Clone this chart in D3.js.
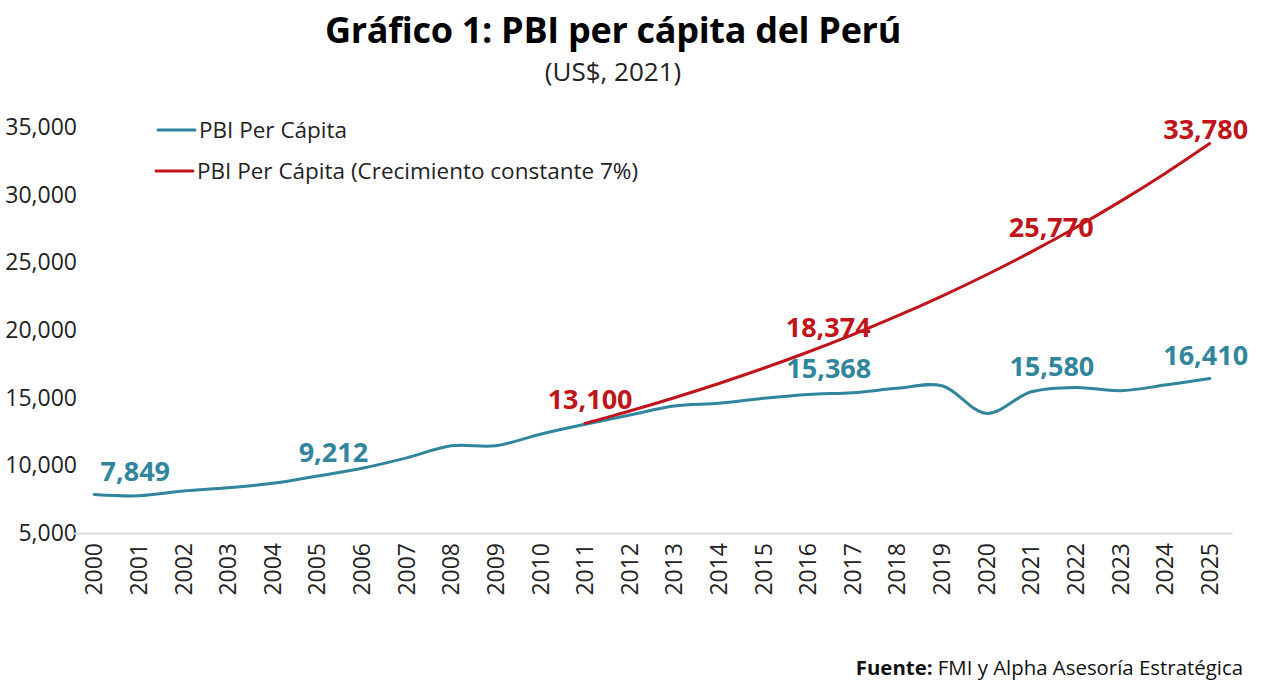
<!DOCTYPE html>
<html>
<head>
<meta charset="utf-8">
<script src="https://cdn.jsdelivr.net/npm/d3@7"></script>
<style>
  html, body { margin: 0; padding: 0; background: #fff; }
  svg { display: block; }
  text { font-family: "Open Sans", "Noto Sans", sans-serif; }
</style>
</head>
<body>
<svg id="chart" width="1263" height="685"></svg>
<script>
// ---- data ----
const years = ["2000","2001","2002","2003","2004","2005","2006","2007","2008","2009","2010","2011","2012",
               "2013","2014","2015","2016","2017","2018","2019","2020","2021","2022","2023","2024","2025"];
const pbiPerCapita = [7849, 7750, 8100, 8345, 8670, 9212, 9780, 10550, 11450, 11450, 12300, 13030, 13715,
                      14380, 14580, 14950, 15240, 15368, 15690, 15880, 13840, 15435, 15760, 15510, 15930, 16410];
const growthYears = ["2011","2012","2013","2014","2015","2016","2017","2018","2019","2020","2021","2022","2023","2024","2025"];
const pbiGrowth7 = [13100, 14017, 14998, 16048, 17171, 18374, 19660, 21036, 22509, 24084, 25770, 27574, 29504, 31569, 33780];
const yTicks = [5000, 10000, 15000, 20000, 25000, 30000, 35000];
const blueLabelYears = ["2000", "2005", "2017", "2022", "2025"];
const blueLabelTexts = ["7,849", "9,212", "15,368", "15,580", "16,410"];
const redLabelYears = ["2011", "2016", "2021", "2025"];
const redLabelTexts = ["13,100", "18,374", "25,770", "33,780"];
const seriesNames = ["PBI Per Cápita", "PBI Per Cápita (Crecimiento constante 7%)"];
const titleText = "Gráfico 1: PBI per cápita del Perú";
const subtitleText = "(US$, 2021)";

// ---- styles ----
const BLUE = "#31859C";
const RED = "#C0131A";

const svg = d3.select("#chart");

const x = d3.scaleBand().domain(years).range([72, 1232]).paddingInner(0).paddingOuter(0);
const xc = d => x(d) + x.bandwidth() / 2;
const y = d3.scaleLinear().domain([5000, 35000]).range([533, 127]);

// title
svg.append("text").attr("x", 613).attr("y", 43).attr("text-anchor", "middle")
  .style("font-weight", 700).style("font-size", "36px").style("letter-spacing", "-0.3px").attr("fill", "#000").text(titleText);
svg.append("text").attr("x", 613).attr("y", 81).attr("text-anchor", "middle")
  .style("font-size", "26px").attr("fill", "#222").text(subtitleText);

// y axis
const yAxis = d3.axisLeft(y).tickValues(yTicks).tickFormat(d3.format(",")).tickSize(0).tickPadding(0);
const gy = svg.append("g").attr("transform", "translate(77,0)").call(yAxis);
gy.select(".domain").remove();
gy.selectAll("text").style("font-size", "23px").attr("fill", "#222").style("font-family", "'Open Sans', sans-serif");

// x axis
const xAxis = d3.axisBottom(x).tickSize(0).tickPadding(0);
const gx = svg.append("g").attr("transform", "translate(0,533)").call(xAxis);
gx.select(".domain").attr("stroke", "#d9d9d9").attr("stroke-width", 2);
gx.selectAll("text")
  .attr("transform", "rotate(-90)")
  .attr("text-anchor", "end")
  .attr("x", -10).attr("y", 0).attr("dy", "0.35em")
  .style("font-size", "23px").attr("fill", "#222").style("font-family", "'Open Sans', sans-serif");

// lines
const line = d3.line().x(d => xc(d[0])).y(d => y(d[1])).curve(d3.curveCatmullRom.alpha(0.5));
svg.append("path").datum(years.map((yr, i) => [yr, pbiPerCapita[i]]))
  .attr("d", line).attr("fill", "none").attr("stroke", BLUE).attr("stroke-width", 3).attr("stroke-linecap", "round");
svg.append("path").datum(growthYears.map((yr, i) => [yr, pbiGrowth7[i]]))
  .attr("d", line).attr("fill", "none").attr("stroke", RED).attr("stroke-width", 3).attr("stroke-linecap", "round");

// data labels (offsets in px relative to data point)
const blueOffsets = [[41, -23.5], [16, -23.5], [-24, -24.5], [-24, -21.5], [-4, -23.5]];
const redOffsets = [[5, -24], [20, -24.5], [20, -24.5], [-4, -14]];
function addLabels(yrsArr, texts, offsets, seriesYears, values, color) {
  yrsArr.forEach((yr, i) => {
    const v = values[seriesYears.indexOf(yr)];
    svg.append("text")
      .attr("x", xc(yr) + offsets[i][0]).attr("y", y(v) + offsets[i][1])
      .attr("text-anchor", "middle").attr("dy", "0.36em")
      .style("font-weight", 700).style("font-size", "27px").attr("fill", color).text(texts[i]);
  });
}
addLabels(blueLabelYears, blueLabelTexts, blueOffsets, years, pbiPerCapita, BLUE);
addLabels(redLabelYears, redLabelTexts, redOffsets, growthYears, pbiGrowth7, RED);

// legend
const legend = svg.append("g");
[BLUE, RED].forEach((c, i) => {
  const ly = 130 + i * 41;
  legend.append("line").attr("x1", 158 - i * 2).attr("x2", 195 - i * 2).attr("y1", ly).attr("y2", ly)
    .attr("stroke", c).attr("stroke-width", 3).attr("stroke-linecap", "round");
  legend.append("text").attr("x", 199 - i * 2).attr("y", ly).attr("dy", "0.35em")
    .style("font-size", "22.5px").attr("fill", "#222").text(seriesNames[i]);
});

// source
const src = svg.append("text").attr("x", 1243).attr("y", 675).attr("text-anchor", "end")
  .style("font-size", "20.4px").attr("fill", "#111");
src.append("tspan").style("font-weight", 700).text("Fuente: ");
src.append("tspan").text("FMI y Alpha Asesoría Estratégica");
</script>
</body>
</html>
